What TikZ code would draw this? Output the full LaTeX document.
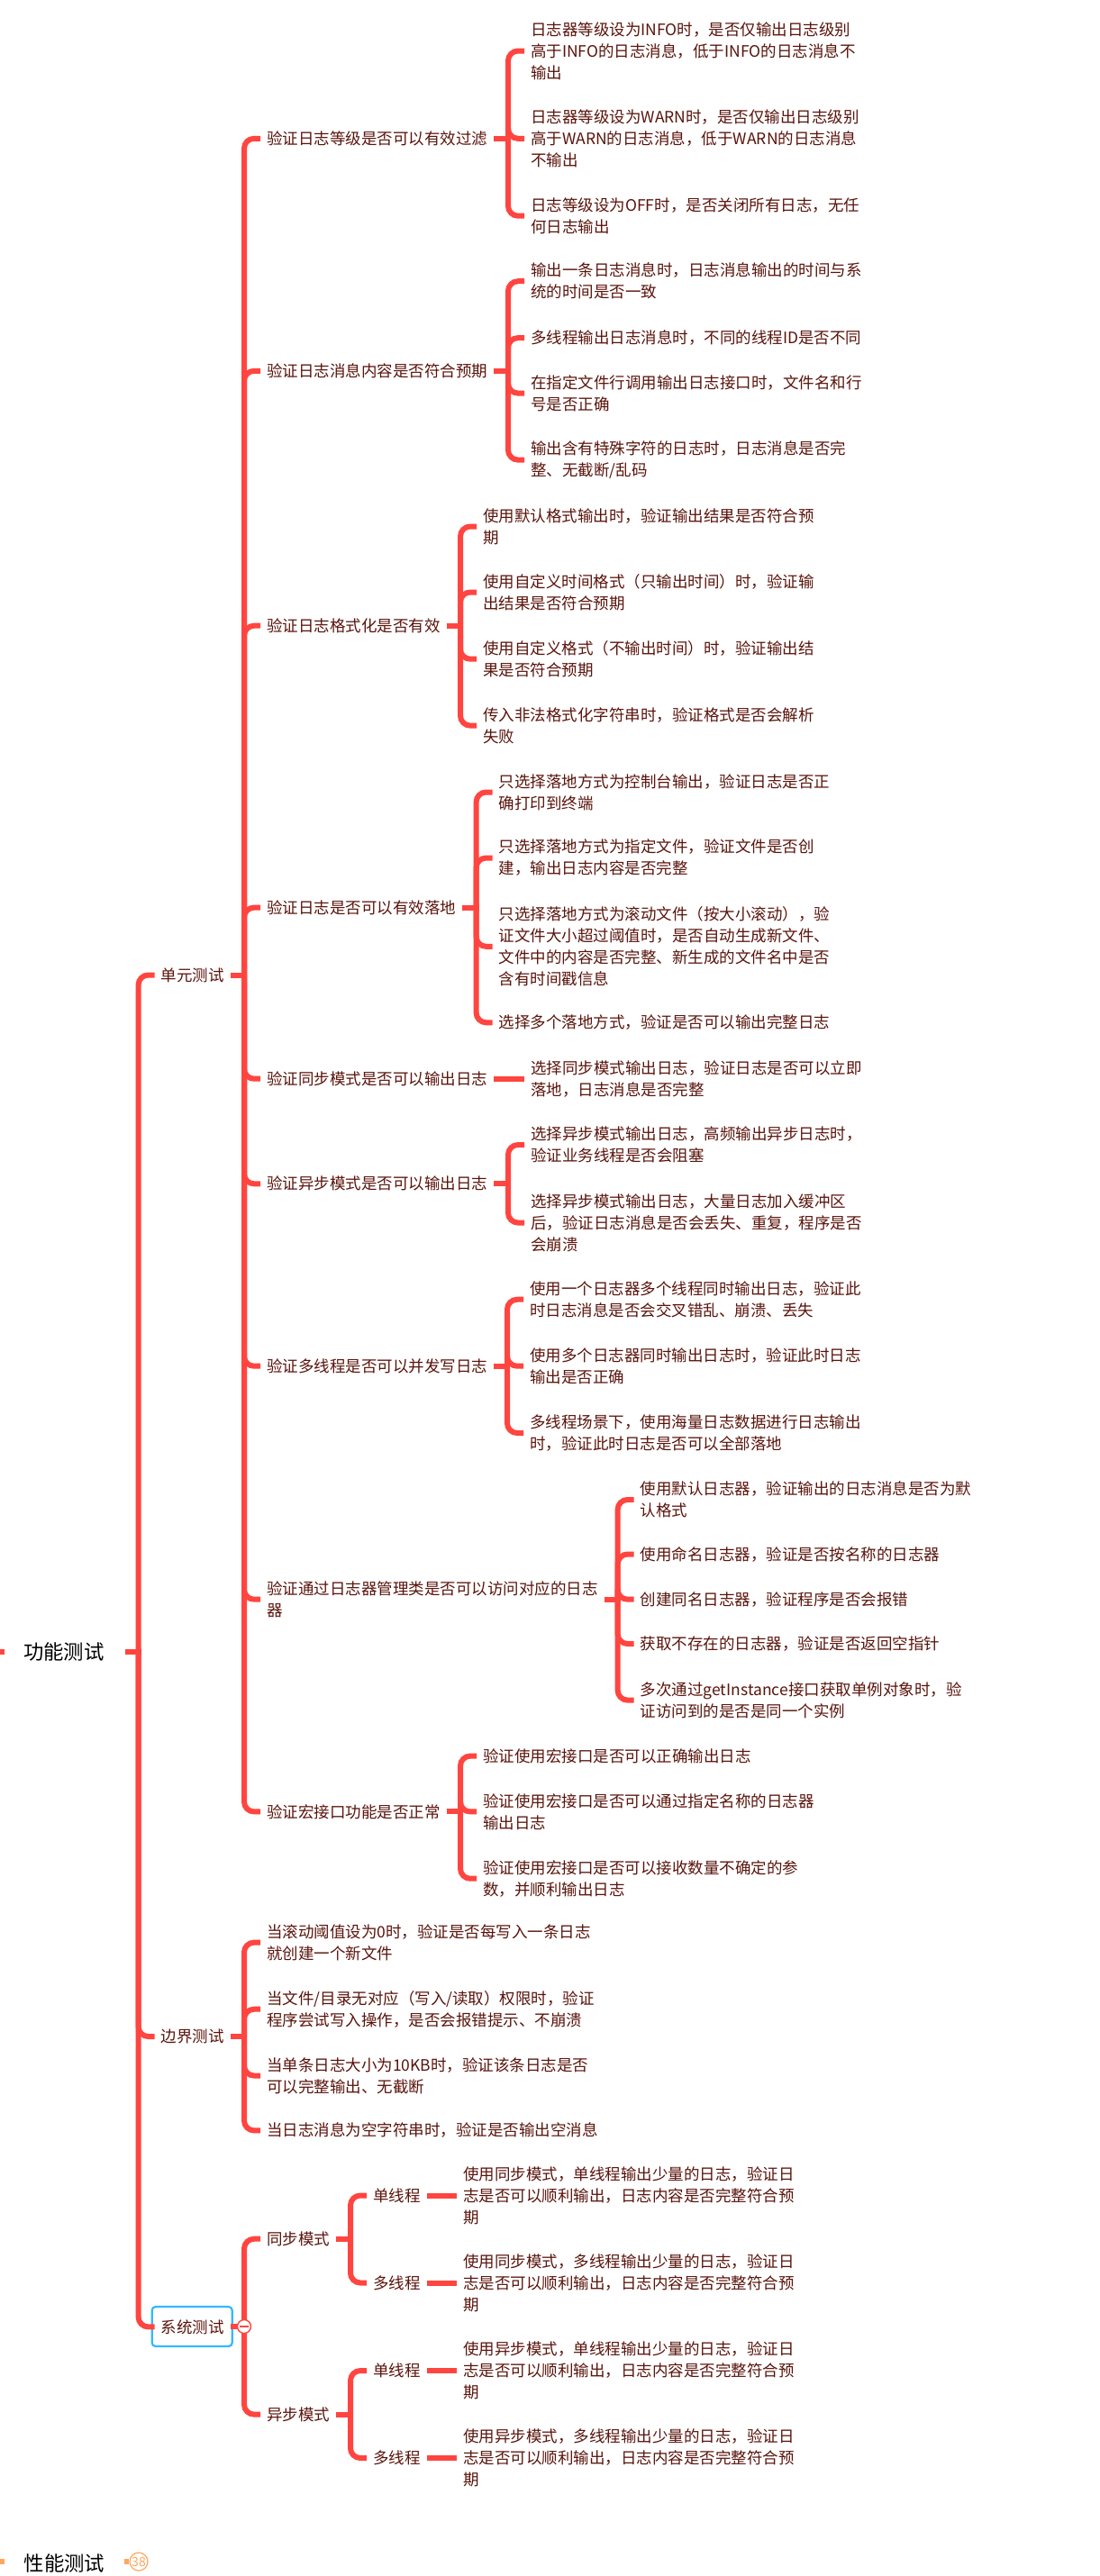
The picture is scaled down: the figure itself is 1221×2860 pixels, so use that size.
\documentclass[tikz,border=0pt]{standalone}
\usepackage{fontspec}
\setmainfont{Noto Sans CJK SC}
\definecolor{branch}{HTML}{FF4540}
\definecolor{leaf}{HTML}{5A140C}
\definecolor{selblue}{HTML}{35B8FF}
\definecolor{fold}{HTML}{FFA75F}
\tikzset{
  txt/.style={anchor=west,inner sep=0pt,align=left,text=leaf,font=\fontsize{17.5}{24}\selectfont},
  roottxt/.style={anchor=west,inner sep=0pt,align=left,text=black,font=\fontsize{22.4}{28}\selectfont},
  lk/.style={draw=branch,line width=6pt},
  selbox/.style={draw=selblue,line width=2.2pt,rounded corners=4pt,minimum width=89pt,minimum height=44pt,inner sep=0pt},
  foldbtn/.style={circle,draw=branch,fill=white,line width=1.4pt,minimum size=15pt,inner sep=0pt},
  countbtn/.style={circle,draw=fold,fill=white,line width=1.2pt,minimum size=20pt,inner sep=0pt,text=fold,font=\fontsize{14}{16}\selectfont},
}
% parent, child: stub, then bar with a rounded turn into the child
\newcommand{\lk}[3][7pt]{%
  \draw[lk] ([xshift=#1]#2.east) -- ([xshift=-22pt]#3.west |- #2.east);
  \draw[lk,rounded corners=11pt] ([xshift=-25pt]#3.west |- #2.east) |- ([xshift=-7pt]#3.west);
}
\newcommand{\lks}[2]{\draw[lk] ([xshift=7pt]#1.east) -- ([xshift=-7pt]#2.west |- #1.east);}
\begin{document}
\begin{tikzpicture}[x=1pt,y=-1pt]
\useasboundingbox[fill=white] (0,0) rectangle (1221,2860);
% roots
\node[roottxt] (root) at (26,1834) {功能测试};
\node[roottxt] (perf) at (26.5,2845.5) {性能测试};
\coordinate (rootin) at (0,1834);
\coordinate (perfin) at (0,2844);
% level 1
\node[txt] (unit) at (178.6,1082.5) {单元测试};
\node[txt] (bound) at (178.6,2261) {边界测试};
\node[txt] (sys) at (178.6,2583.4) {系统测试};
% level 2 under unit
\node[txt] (g1) at (296,153.8) {验证日志等级是否可以有效过滤};
\node[txt] (g2) at (296,411.8) {验证日志消息内容是否符合预期};
\node[txt] (g3) at (296,694.7) {验证日志格式化是否有效};
\node[txt] (g4) at (296,1007.6) {验证日志是否可以有效落地};
\node[txt] (g5) at (296,1197.7) {验证同步模式是否可以输出日志};
\node[txt] (g6) at (296,1314.3) {验证异步模式是否可以输出日志};
\node[txt] (g7) at (296,1516.7) {验证多线程是否可以并发写日志};
\node[txt] (g8) at (296,1775.7) {验证通过日志器管理类是否可以访问对应的日志\\器};
\node[txt] (g9) at (296,2011.4) {验证宏接口功能是否正常};
% g1
\node[txt] (a1) at (589,56.5) {日志器等级设为INFO时，是否仅输出日志级别\\高于INFO的日志消息，低于INFO的日志消息不\\输出};
\node[txt] (a2) at (589,153.8) {日志器等级设为WARN时，是否仅输出日志级别\\高于WARN的日志消息，低于WARN的日志消息\\不输出};
\node[txt] (a3) at (589,239.7) {日志等级设为OFF时，是否关闭所有日志，无任\\何日志输出};
% g2
\node[txt] (b1) at (589,312.2) {输出一条日志消息时，日志消息输出的时间与系\\统的时间是否一致};
\node[txt] (b2) at (589,375.1) {多线程输出日志消息时，不同的线程ID是否不同};
\node[txt] (b3) at (589,436.6) {在指定文件行调用输出日志接口时，文件名和行\\号是否正确};
\node[txt] (b4) at (589,510.6) {输出含有特殊字符的日志时，日志消息是否完\\整、无截断/乱码};
% g3
\node[txt] (c1) at (536,584.5) {使用默认格式输出时，验证输出结果是否符合预\\期};
\node[txt] (c2) at (536,657.5) {使用自定义时间格式（只输出时间）时，验证输\\出结果是否符合预期};
\node[txt] (c3) at (536,731.7) {使用自定义格式（不输出时间）时，验证输出结\\果是否符合预期};
\node[txt] (c4) at (536,805.6) {传入非法格式化字符串时，验证格式是否会解析\\失败};
% g4
\node[txt] (d1) at (553.6,879.5) {只选择落地方式为控制台输出，验证日志是否正\\确打印到终端};
\node[txt] (d2) at (553.6,952.5) {只选择落地方式为指定文件，验证文件是否创\\建，输出日志内容是否完整};
\node[txt] (d3) at (553.6,1050.8) {只选择落地方式为滚动文件（按大小滚动），验\\证文件大小超过阈值时，是否自动生成新文件、\\文件中的内容是否完整、新生成的文件名中是否\\含有时间戳信息};
\node[txt] (d4) at (553.6,1135.3) {选择多个落地方式，验证是否可以输出完整日志};
% g5
\node[txt] (e1) at (589,1197.7) {选择同步模式输出日志，验证日志是否可以立即\\落地，日志消息是否完整};
% g6
\node[txt] (f1) at (589,1271) {选择异步模式输出日志，高频输出异步日志时，\\验证业务线程是否会阻塞};
\node[txt] (f2) at (589,1357.5) {选择异步模式输出日志，大量日志加入缓冲区\\后，验证日志消息是否会丢失、重复，程序是否\\会崩溃};
% g7
\node[txt] (h1) at (588,1442.7) {使用一个日志器多个线程同时输出日志，验证此\\时日志消息是否会交叉错乱、崩溃、丢失};
\node[txt] (h2) at (588,1516.7) {使用多个日志器同时输出日志时，验证此时日志\\输出是否正确};
\node[txt] (h3) at (588,1591) {多线程场景下，使用海量日志数据进行日志输出\\时，验证此时日志是否可以全部落地};
% g8
\node[txt] (i1) at (710.6,1665) {使用默认日志器，验证输出的日志消息是否为默\\认格式};
\node[txt] (i2) at (710.6,1725.5) {使用命名日志器，验证是否按名称的日志器};
\node[txt] (i3) at (710.6,1775.7) {创建同名日志器，验证程序是否会报错};
\node[txt] (i4) at (710.6,1825) {获取不存在的日志器，验证是否返回空指针};
\node[txt] (i5) at (710.6,1887.6) {多次通过getInstance接口获取单例对象时，验\\证访问到的是否是同一个实例};
% g9
\node[txt] (j1) at (536,1949.6) {验证使用宏接口是否可以正确输出日志};
\node[txt] (j2) at (536,2011.4) {验证使用宏接口是否可以通过指定名称的日志器\\输出日志};
\node[txt] (j3) at (536,2085.7) {验证使用宏接口是否可以接收数量不确定的参\\数，并顺利输出日志};
% boundary
\node[txt] (k1) at (296,2156.6) {当滚动阈值设为0时，验证是否每写入一条日志\\就创建一个新文件};
\node[txt] (k2) at (296,2230.7) {当文件/目录无对应（写入/读取）权限时，验证\\程序尝试写入操作，是否会报错提示、不崩溃};
\node[txt] (k3) at (296,2304.5) {当单条日志大小为10KB时，验证该条日志是否\\可以完整输出、无截断};
\node[txt] (k4) at (296,2365.4) {当日志消息为空字符串时，验证是否输出空消息};
% system
\node[txt] (syn) at (296,2485.7) {同步模式};
\node[txt] (asy) at (296,2680.6) {异步模式};
\node[txt] (s1) at (414,2437.5) {单线程};
\node[txt] (s2) at (414,2534.5) {多线程};
\node[txt] (s3) at (414,2632) {单线程};
\node[txt] (s4) at (414,2729) {多线程};
\node[txt] (t1) at (514,2437.5) {使用同步模式，单线程输出少量的日志，验证日\\志是否可以顺利输出，日志内容是否完整符合预\\期};
\node[txt] (t2) at (514,2534.5) {使用同步模式，多线程输出少量的日志，验证日\\志是否可以顺利输出，日志内容是否完整符合预\\期};
\node[txt] (t3) at (514,2632) {使用异步模式，单线程输出少量的日志，验证日\\志是否可以顺利输出，日志内容是否完整符合预\\期};
\node[txt] (t4) at (514,2729) {使用异步模式，多线程输出少量的日志，验证日\\志是否可以顺利输出，日志内容是否完整符合预\\期};
% selection box
\node[selbox] (sysbox) at (213.2,2583) {};
% connectors
\draw[lk] (rootin) -- ([xshift=-21pt]root.west);
\foreach \c in {unit,bound,sys} {\lk[23pt]{root}{\c}}
\foreach \c in {g1,g2,g3,g4,g5,g6,g7,g8,g9} {\lk{unit}{\c}}
\foreach \c in {a1,a2,a3} {\lk{g1}{\c}}
\foreach \c in {b1,b2,b3,b4} {\lk{g2}{\c}}
\foreach \c in {c1,c2,c3,c4} {\lk{g3}{\c}}
\foreach \c in {d1,d2,d3,d4} {\lk{g4}{\c}}
\lks{g5}{e1}
\foreach \c in {f1,f2} {\lk{g6}{\c}}
\foreach \c in {h1,h2,h3} {\lk{g7}{\c}}
\foreach \c in {i1,i2,i3,i4,i5} {\lk{g8}{\c}}
\foreach \c in {j1,j2,j3} {\lk{g9}{\c}}
\foreach \c in {k1,k2,k3,k4} {\lk{bound}{\c}}
\foreach \c in {syn,asy} {\lk{sys}{\c}}
\foreach \c in {s1,s2} {\lk{syn}{\c}}
\foreach \c in {s3,s4} {\lk{asy}{\c}}
\lks{s1}{t1}
\lks{s2}{t2}
\lks{s3}{t3}
\lks{s4}{t4}
% fold button
\node[foldbtn] (minus) at (271,2583) {};
\draw[branch,line width=1.4pt] ([xshift=-5pt]minus.center) -- ([xshift=5pt]minus.center);
% collapsed branch
\draw[draw=fold,line width=6pt] (perfin) -- ([xshift=-21.8pt]perf.west |- perfin);
\node[countbtn] (count) at (154,2844) {38};
\draw[draw=fold,line width=6pt] ([xshift=-16pt]count.center) -- (count.west);
\end{tikzpicture}
\end{document}
